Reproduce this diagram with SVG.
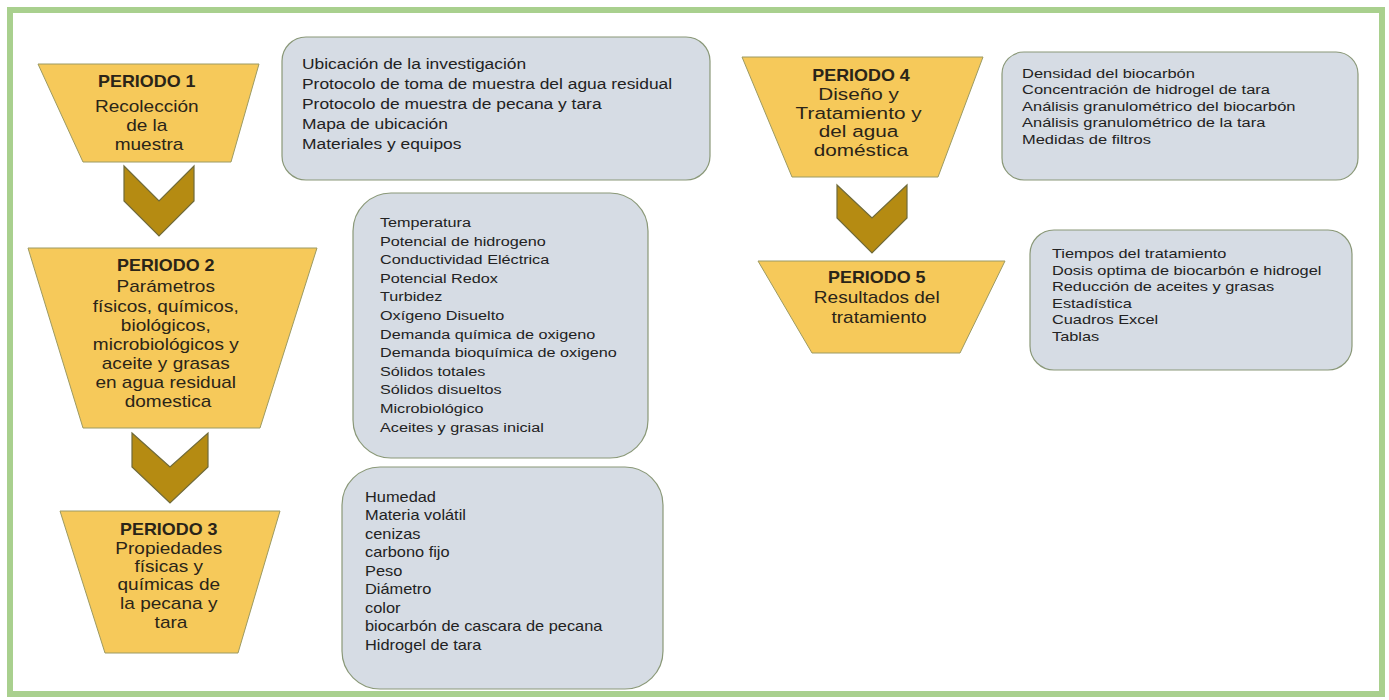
<svg xmlns="http://www.w3.org/2000/svg" width="1389" height="700" viewBox="0 0 1389 700">
  <style>
    .frame { fill: #ffffff; stroke: #a9d08e; stroke-width: 6; }
    .period { fill: #f6c95a; stroke: #9c9a62; stroke-width: 1; }
    .chev { fill: #b58b12; stroke: #6f6a3a; stroke-width: 1.2; }
    .box { fill: #d6dce4; stroke: #8a9878; stroke-width: 1.2; }
    .ptitle { font-family: "Liberation Sans", Arial, sans-serif; font-weight: bold; font-size: 16px; fill: #2a2418; text-anchor: middle; }
    .pbody { font-family: "Liberation Sans", Arial, sans-serif; font-size: 17px; fill: #2a2418; text-anchor: middle; }
    .lst { font-family: "Liberation Sans", Arial, sans-serif; fill: #222222; }
  </style>

  <!-- outer frame -->
  <rect class="frame" x="10" y="10" width="1372" height="684"/>

  <!-- connectors: downward chevrons between periods -->
  <g id="connectors">
    <polygon class="chev" points="124,166 159,201 194,166 194,201 159,236 124,201"/>
    <polygon class="chev" points="132,433 170,467 208,433 208,467 170,503 132,467"/>
    <polygon class="chev" points="837,185 872,218 907,185 907,218 872,253 837,218"/>
  </g>

  <!-- PERIODO 1 -->
  <g id="periodo1">
    <polygon class="period" points="38,64 259,64 231,162 83,162"/>
    <text transform="translate(149,0) scale(1.12,1)">
      <tspan class="ptitle" x="0" y="87">PERIODO 1</tspan>
      <tspan class="pbody" x="0" y="112">Recolección</tspan>
      <tspan class="pbody" x="0" y="131">de la</tspan>
      <tspan class="pbody" x="0" y="150">muestra</tspan>
    </text>
  </g>

  <!-- PERIODO 2 -->
  <g id="periodo2">
    <polygon class="period" points="28,248 317,248 260,428 83,428"/>
    <text transform="translate(168,0) scale(1.12,1)">
      <tspan class="ptitle" x="0" y="271">PERIODO 2</tspan>
      <tspan class="pbody" x="0" y="292">Parámetros</tspan>
      <tspan class="pbody" x="0" y="312">físicos, químicos,</tspan>
      <tspan class="pbody" x="0" y="331">biológicos,</tspan>
      <tspan class="pbody" x="0" y="350">microbiológicos y</tspan>
      <tspan class="pbody" x="0" y="369">aceite y grasas</tspan>
      <tspan class="pbody" x="0" y="388">en agua residual</tspan>
      <tspan class="pbody" x="0" y="407">domestica</tspan>
    </text>
  </g>

  <!-- PERIODO 3 -->
  <g id="periodo3">
    <polygon class="period" points="60,511 280,511 238,653 105,653"/>
    <text transform="translate(171,0) scale(1.12,1)">
      <tspan class="ptitle" x="0" y="535">PERIODO 3</tspan>
      <tspan class="pbody" x="0" y="554">Propiedades</tspan>
      <tspan class="pbody" x="0" y="572">físicas y</tspan>
      <tspan class="pbody" x="0" y="590">químicas de</tspan>
      <tspan class="pbody" x="0" y="609">la pecana y</tspan>
      <tspan class="pbody" x="0" y="628">tara</tspan>
    </text>
  </g>

  <!-- PERIODO 4 -->
  <g id="periodo4">
    <polygon class="period" points="742,57 983,57 938,177 792,177"/>
    <text transform="translate(861,0) scale(1.12,1)">
      <tspan class="ptitle" x="0" y="81">PERIODO 4</tspan>
    </text>
    <text transform="translate(861,0) scale(1.22,1)">
      <tspan class="pbody" x="0" y="100">Diseño y</tspan>
      <tspan class="pbody" x="0" y="119">Tratamiento y</tspan>
      <tspan class="pbody" x="0" y="137">del agua</tspan>
      <tspan class="pbody" x="0" y="156">doméstica</tspan>
    </text>
  </g>

  <!-- PERIODO 5 -->
  <g id="periodo5">
    <polygon class="period" points="758,261 1005,261 960,353 812,353"/>
    <text transform="translate(879,0) scale(1.12,1)">
      <tspan class="ptitle" x="0" y="283">PERIODO 5</tspan>
      <tspan class="pbody" x="0" y="303">Resultados del</tspan>
      <tspan class="pbody" x="0" y="323">tratamiento</tspan>
    </text>
  </g>

  <!-- detail box: collection -->
  <g id="detalle1">
    <rect class="box" x="282" y="37" width="428" height="143" rx="24"/>
    <text class="lst" font-size="14.5" transform="translate(302,0) scale(1.2,1)">
      <tspan x="0" y="69">Ubicación de la investigación</tspan>
      <tspan x="0" y="89">Protocolo de toma de muestra del agua residual</tspan>
      <tspan x="0" y="109">Protocolo de muestra de pecana y tara</tspan>
      <tspan x="0" y="129">Mapa de ubicación</tspan>
      <tspan x="0" y="149">Materiales y equipos</tspan>
    </text>
  </g>

  <!-- detail box: water parameters -->
  <g id="detalle2">
    <rect class="box" x="353" y="193" width="295" height="265" rx="38"/>
    <text class="lst" font-size="13.5" transform="translate(380,0) scale(1.2,1)">
      <tspan x="0" y="227">Temperatura</tspan>
      <tspan x="0" y="245.6">Potencial de hidrogeno</tspan>
      <tspan x="0" y="264.2">Conductividad Eléctrica</tspan>
      <tspan x="0" y="282.8">Potencial Redox</tspan>
      <tspan x="0" y="301.4">Turbidez</tspan>
      <tspan x="0" y="320">Oxígeno Disuelto</tspan>
      <tspan x="0" y="338.6">Demanda química de oxigeno</tspan>
      <tspan x="0" y="357.2">Demanda bioquímica de oxigeno</tspan>
      <tspan x="0" y="375.8">Sólidos totales</tspan>
      <tspan x="0" y="394.4">Sólidos disueltos</tspan>
      <tspan x="0" y="413">Microbiológico</tspan>
      <tspan x="0" y="431.6">Aceites y grasas inicial</tspan>
    </text>
  </g>

  <!-- detail box: pecan and tara properties -->
  <g id="detalle3">
    <rect class="box" x="342" y="467" width="321" height="222" rx="38"/>
    <text class="lst" font-size="14" transform="translate(365,0) scale(1.17,1)">
      <tspan x="0" y="502">Humedad</tspan>
      <tspan x="0" y="520.5">Materia volátil</tspan>
      <tspan x="0" y="539">cenizas</tspan>
      <tspan x="0" y="557.5">carbono fijo</tspan>
      <tspan x="0" y="576">Peso</tspan>
      <tspan x="0" y="594.5">Diámetro</tspan>
      <tspan x="0" y="613">color</tspan>
      <tspan x="0" y="631.5">biocarbón de cascara de pecana</tspan>
      <tspan x="0" y="650">Hidrogel de tara</tspan>
    </text>
  </g>

  <!-- detail box: design -->
  <g id="detalle4">
    <rect class="box" x="1002" y="52" width="356" height="128" rx="22"/>
    <text class="lst" font-size="13.5" transform="translate(1022,0) scale(1.22,1)">
      <tspan x="0" y="78">Densidad del biocarbón</tspan>
      <tspan x="0" y="94.5">Concentración de hidrogel de tara</tspan>
      <tspan x="0" y="111">Análisis granulométrico del biocarbón</tspan>
      <tspan x="0" y="127.5">Análisis granulométrico de la tara</tspan>
      <tspan x="0" y="144">Medidas de filtros</tspan>
    </text>
  </g>

  <!-- detail box: results -->
  <g id="detalle5">
    <rect class="box" x="1030" y="230" width="322" height="140" rx="24"/>
    <text class="lst" font-size="13.5" transform="translate(1052,0) scale(1.21,1)">
      <tspan x="0" y="258">Tiempos del tratamiento</tspan>
      <tspan x="0" y="274.6">Dosis optima de biocarbón e hidrogel</tspan>
      <tspan x="0" y="291.2">Reducción de aceites y grasas</tspan>
      <tspan x="0" y="307.8">Estadística</tspan>
      <tspan x="0" y="324.4">Cuadros Excel</tspan>
      <tspan x="0" y="341">Tablas</tspan>
    </text>
  </g>
</svg>
